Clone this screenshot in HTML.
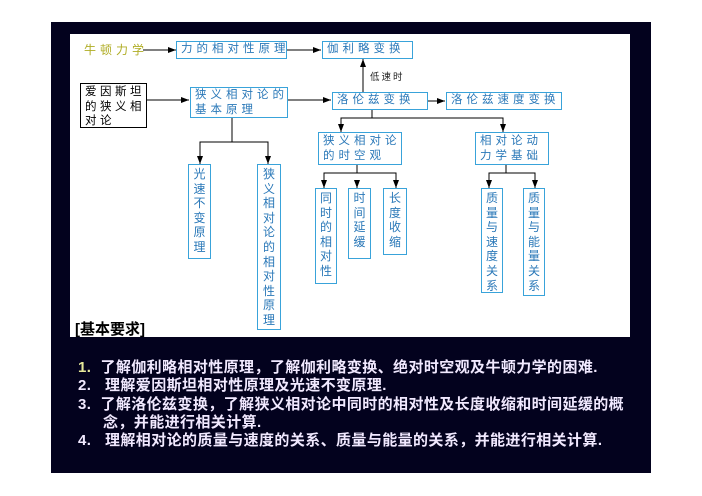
<!DOCTYPE html>
<html><head><meta charset="utf-8"><style>
*{margin:0;padding:0;box-sizing:border-box}
body{width:702px;height:496px;background:#fff;position:relative;overflow:hidden;font-family:"Liberation Sans","Noto Sans CJK SC",sans-serif}
#dark{position:absolute;left:51px;top:22px;width:600px;height:451px;background:#03021e}
#white{position:absolute;left:70px;top:34px;width:560px;height:303px;background:#fff}
.b{position:absolute;border:1.5px solid #39a3da;color:#2a78b8;font-size:11.5px;letter-spacing:4px;line-height:15px;padding-left:4px;background:#fff;white-space:nowrap}
.v{position:absolute;border:1.5px solid #39a3da;color:#2a78b8;font-size:12px;line-height:14.6px;text-align:center;background:#fff;padding-top:2px}
.t{position:absolute;color:#f1e9ff;font-size:15px;font-weight:bold;letter-spacing:0.4px;white-space:nowrap}
svg{position:absolute;left:0;top:0}
</style></head><body>
<div id="dark"></div>
<div id="white"></div>
<svg width="702" height="496">
<defs><marker id="a" markerWidth="8" markerHeight="6" refX="8" refY="3" orient="auto" markerUnits="userSpaceOnUse"><path d="M0,0L8,3L0,6z" fill="#000"/></marker></defs>
<g stroke="#000" stroke-width="1" fill="none">
<line x1="143" y1="50" x2="176" y2="50" marker-end="url(#a)"/>
<line x1="287" y1="50" x2="321" y2="50" marker-end="url(#a)"/>
<line x1="147" y1="100" x2="189" y2="100" marker-end="url(#a)"/>
<line x1="288" y1="100" x2="331" y2="100" marker-end="url(#a)"/>
<line x1="363" y1="92" x2="363" y2="59" marker-end="url(#a)"/>
<line x1="428" y1="101" x2="445" y2="101" marker-end="url(#a)"/>
<polyline points="372,110 372,118"/>
<polyline points="341,131 341,118 503,118 503,131"/>
<line x1="341" y1="124" x2="341" y2="132" marker-end="url(#a)"/>
<line x1="503" y1="124" x2="503" y2="132" marker-end="url(#a)"/>
<polyline points="232,118 232,142"/>
<polyline points="200,163 200,142 268,142 268,163"/>
<line x1="200" y1="156" x2="200" y2="164" marker-end="url(#a)"/>
<line x1="268" y1="156" x2="268" y2="164" marker-end="url(#a)"/>
<polyline points="357,165 357,173"/>
<polyline points="324,187 324,173 396,173 396,187"/>
<line x1="324" y1="180" x2="324" y2="188" marker-end="url(#a)"/>
<line x1="357" y1="180" x2="357" y2="188" marker-end="url(#a)"/>
<line x1="396" y1="180" x2="396" y2="188" marker-end="url(#a)"/>
<polyline points="506,165 506,173"/>
<polyline points="489,187 489,173 535,173 535,187"/>
<line x1="489" y1="180" x2="489" y2="188" marker-end="url(#a)"/>
<line x1="535" y1="180" x2="535" y2="188" marker-end="url(#a)"/>
</g>
</svg>
<div style="position:absolute;left:84px;top:41px;color:#b0ad25;font-size:12px;letter-spacing:4px">牛顿力学</div>
<div class="b" style="left:176px;top:41px;width:111px;height:18px">力的相对性原理</div>
<div class="b" style="left:322px;top:41px;width:91px;height:18px">伽利略变换</div>
<div style="position:absolute;left:370px;top:69px;font-size:9.5px;letter-spacing:2px;color:#222">低速时</div>
<div class="b" style="left:80px;top:83px;width:67px;height:45px;border-color:#000;color:#000;line-height:14.5px;letter-spacing:3.5px;white-space:normal;padding-top:1px">爱因斯坦的狭义相对论</div>
<div class="b" style="left:190px;top:87px;width:98px;height:31px;padding-top:0">狭义相对论的<br>基本原理</div>
<div class="b" style="left:332px;top:92px;width:96px;height:18px">洛伦兹变换</div>
<div class="b" style="left:446px;top:92px;width:116px;height:18px">洛伦兹速度变换</div>
<div class="b" style="left:318px;top:132px;width:84px;height:33px;padding-top:1px">狭义相对论<br>的时空观</div>
<div class="b" style="left:475px;top:132px;width:74px;height:33px;padding-top:1px">相对论动<br>力学基础</div>
<div class="v" style="left:188px;top:164px;width:23px;height:95px">光<br>速<br>不<br>变<br>原<br>理</div>
<div class="v" style="left:257px;top:164px;width:24px;height:166px">狭<br>义<br>相<br>对<br>论<br>的<br>相<br>对<br>性<br>原<br>理</div>
<div class="v" style="left:315px;top:188px;width:22px;height:96px">同<br>时<br>的<br>相<br>对<br>性</div>
<div class="v" style="left:348px;top:188px;width:23px;height:71px">时<br>间<br>延<br>缓</div>
<div class="v" style="left:383px;top:188px;width:24px;height:67px">长<br>度<br>收<br>缩</div>
<div class="v" style="left:481px;top:188px;width:22px;height:105px">质<br>量<br>与<br>速<br>度<br>关<br>系</div>
<div class="v" style="left:523px;top:188px;width:22px;height:108px">质<br>量<br>与<br>能<br>量<br>关<br>系</div>
<div style="position:absolute;left:75px;top:318px;font-size:15px;font-weight:bold;color:#000">[基本要求]</div>
<div class="t" style="left:78px;top:356px"><span style="color:#e6e89a">1.</span>&nbsp; 了解伽利略相对性原理，了解伽利略变换、绝对时空观及牛顿力学的困难.</div>
<div class="t" style="left:78px;top:374px">2.&nbsp;&nbsp; 理解爱因斯坦相对性原理及光速不变原理.</div>
<div class="t" style="left:78px;top:393px">3.&nbsp;&nbsp;了解洛伦兹变换，了解狭义相对论中同时的相对性及长度收缩和时间延缓的概</div>
<div class="t" style="left:103px;top:411px">念，并能进行相关计算.</div>
<div class="t" style="left:78px;top:429px">4.&nbsp;&nbsp; 理解相对论的质量与速度的关系、质量与能量的关系，并能进行相关计算.</div>
</body></html>
